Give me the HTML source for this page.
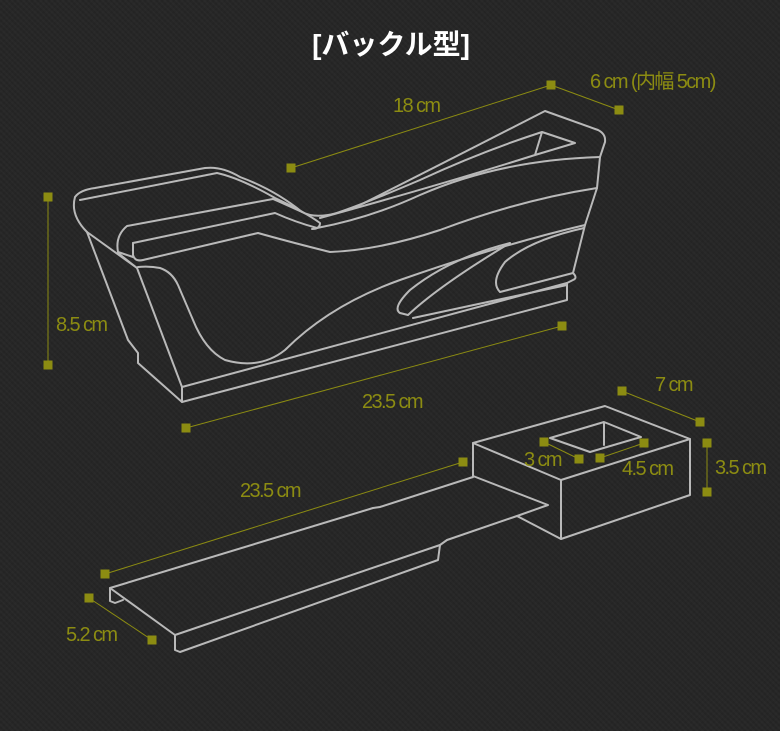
<!DOCTYPE html>
<html><head><meta charset="utf-8"><style>
body{margin:0;width:780px;height:731px;background:#262626;overflow:hidden;
background-image:repeating-linear-gradient(45deg,rgba(255,255,255,.018) 0 2px,transparent 2px 4px),repeating-linear-gradient(-45deg,rgba(0,0,0,.06) 0 2px,transparent 2px 4px);}
svg{position:absolute;left:0;top:0}
text{font-family:"Liberation Sans","Noto Sans CJK JP",sans-serif;fill:#8c8c12;font-size:20px;letter-spacing:-1.6px}
</style></head><body>
<svg width="780" height="731" viewBox="0 0 780 731">
<text x="391" y="54" text-anchor="middle" style="fill:#fff;font-size:28px;font-weight:bold;letter-spacing:0">[バックル型]</text>
<g fill="none" stroke="#b9b9b9" stroke-width="2" stroke-linejoin="round" stroke-linecap="round">
<!-- top object -->
<path d="M302,212 Q320,222 360,205 Q420,175 545,111 L598,130 Q606,134 605,142 L600,157 L597,188 L585,225 L573,273 Q578,278 573,280 L567,283 L567,300 L182,402 L138,363 L138,353 L128,340 L87,232 Q70,215 75,197 Q80,190 95,188 L205,168 Q222,166 240,177 Q275,190 302,212 Z"/>
<path d="M80,200 L217,173 Q240,178 275,198 Q305,212 320,223 Q320,229 312,229"/>
<path d="M302,212 Q280,202 273,199 L127,226 Q115,236 118,252 L133,257"/>
<path d="M133,243 L275,213 Q295,222 317,228 Q370,218 420,195 Q500,160 600,157"/>
<path d="M133,243 L133,255 Q135,262 143,260 L258,233 Q290,242 330,252 Q380,250 440,230 Q520,200 597,188"/>
<path d="M320,218 Q345,212 420,180 Q480,152 542,132 L575,143 L535,155 L542,132 M535,155 Q440,185 320,218"/>
<path d="M87,232 L137,268 L182,387 L567,283"/>
<path d="M118,253 L137,268"/>
<path d="M138,267 Q150,266 160,268 Q172,272 178,285 L193,320 Q205,350 225,360 Q260,370 285,350 Q330,305 400,280 Q500,245 585,225"/>
<path d="M182,387 L182,402"/>
<path d="M510,243 Q450,258 410,290 Q392,308 400,313 L408,315 Q440,285 510,243 Z"/>
<path d="M584,228 Q530,240 505,262 Q490,282 500,292 L573,273"/>
<path d="M567,285 L413,318"/>
<!-- bottom object -->
<path d="M473,443 L605,406 L690,439 L561,480 Z"/>
<path d="M561,480 L561,539 L690,495 L690,439"/>
<path d="M473,443 L473,476 L548,505 L517,516 L561,539"/>
<path d="M550,438 L604,422 L641,437 L590,452 Z M604,422 L604,445"/>
<path d="M473,477 L380,507 L373,508 L110,588 L175,635 L440,545 L447,540 L517,516"/>
<path d="M175,635 L175,650 L180,652 L438,560 L440,545"/>
<path d="M110,588 L110,601 L115,603 L123,600"/>
</g>
<g stroke="#8c8c12" stroke-width="1" fill="#8c8c12">
<line x1="48" y1="197" x2="48" y2="365"/><rect x="44" y="193" width="8" height="8"/><rect x="44" y="361" width="8" height="8"/>
<line x1="291" y1="168" x2="551" y2="85"/><rect x="287" y="164" width="8" height="8"/><rect x="547" y="81" width="8" height="8"/>
<line x1="551" y1="85" x2="619" y2="110"/><rect x="615" y="106" width="8" height="8"/>
<line x1="186" y1="428" x2="562" y2="326"/><rect x="182" y="424" width="8" height="8"/><rect x="558" y="322" width="8" height="8"/>
<line x1="622" y1="391" x2="700" y2="422"/><rect x="618" y="387" width="8" height="8"/><rect x="696" y="418" width="8" height="8"/>
<line x1="707" y1="443" x2="707" y2="492"/><rect x="703" y="439" width="8" height="8"/><rect x="703" y="488" width="8" height="8"/>
<line x1="544" y1="442" x2="579" y2="459"/><rect x="540" y="438" width="8" height="8"/><rect x="575" y="455" width="8" height="8"/>
<line x1="600" y1="458" x2="644" y2="443"/><rect x="596" y="454" width="8" height="8"/><rect x="640" y="439" width="8" height="8"/>
<line x1="105" y1="574" x2="463" y2="462"/><rect x="101" y="570" width="8" height="8"/><rect x="459" y="458" width="8" height="8"/>
<line x1="89" y1="598" x2="152" y2="640"/><rect x="85" y="594" width="8" height="8"/><rect x="148" y="636" width="8" height="8"/>
</g>
<text x="590" y="88">6 cm (内幅 5cm)</text>
<text x="393" y="112">18 cm</text>
<text x="56" y="331">8.5 cm</text>
<text x="362" y="408">23.5 cm</text>
<text x="655" y="391">7 cm</text>
<text x="524" y="466">3 cm</text>
<text x="622" y="475">4.5 cm</text>
<text x="715" y="474">3.5 cm</text>
<text x="240" y="497">23.5 cm</text>
<text x="66" y="641">5.2 cm</text>
</svg>
</body></html>
